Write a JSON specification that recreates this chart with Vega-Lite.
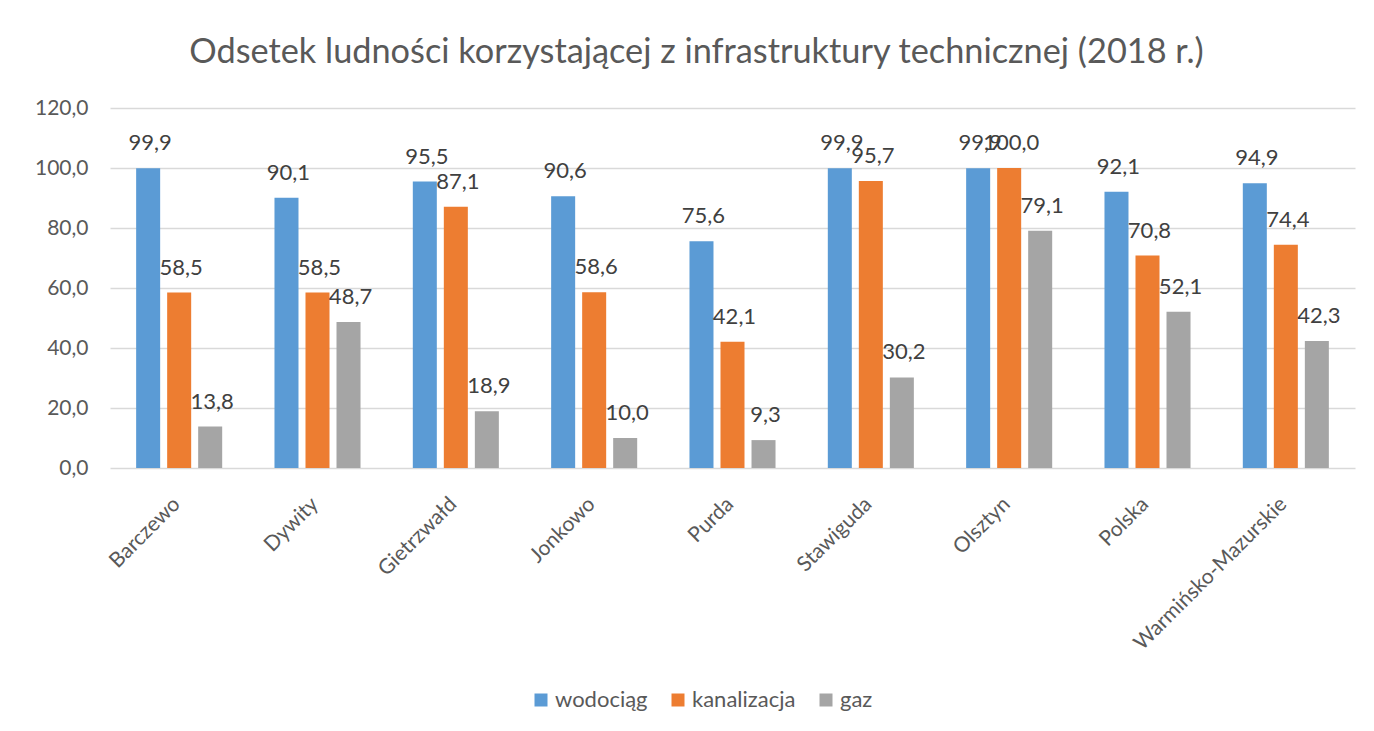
{
  "$schema": "https://vega.github.io/schema/vega-lite/v6.json",
  "autosize": "none",
  "width": 1245,
  "height": 360,
  "padding": {"left": 110, "top": 108, "right": 19, "bottom": 263},
  "background": "white",
  "config": {
    "view": {"stroke": null},
    "locale": {"number": {"decimal": ",", "thousands": " ", "grouping": [3], "currency": ["", " zł"]}},
    "axis": {"labelFont": "Lato", "labelColor": "#595959", "labelFontSize": 21, "title": null}
  },
  "title": {
    "text": "Odsetek ludności korzystającej z infrastruktury technicznej (2018 r.)",
    "font": "Lato",
    "fontSize": 34.3,
    "fontWeight": "normal",
    "color": "#595959",
    "anchor": "middle",
    "frame": "group",
    "baseline": "alphabetic",
    "dx": -36,
    "offset": 0
  },
  "data": {
    "values": [
      {"gmina": "Barczewo", "rodzaj": "wodociąg", "wartosc": 99.9},
      {"gmina": "Barczewo", "rodzaj": "kanalizacja", "wartosc": 58.5},
      {"gmina": "Barczewo", "rodzaj": "gaz", "wartosc": 13.8},
      {"gmina": "Dywity", "rodzaj": "wodociąg", "wartosc": 90.1},
      {"gmina": "Dywity", "rodzaj": "kanalizacja", "wartosc": 58.5},
      {"gmina": "Dywity", "rodzaj": "gaz", "wartosc": 48.7},
      {"gmina": "Gietrzwałd", "rodzaj": "wodociąg", "wartosc": 95.5},
      {"gmina": "Gietrzwałd", "rodzaj": "kanalizacja", "wartosc": 87.1},
      {"gmina": "Gietrzwałd", "rodzaj": "gaz", "wartosc": 18.9},
      {"gmina": "Jonkowo", "rodzaj": "wodociąg", "wartosc": 90.6},
      {"gmina": "Jonkowo", "rodzaj": "kanalizacja", "wartosc": 58.6},
      {"gmina": "Jonkowo", "rodzaj": "gaz", "wartosc": 10.0},
      {"gmina": "Purda", "rodzaj": "wodociąg", "wartosc": 75.6},
      {"gmina": "Purda", "rodzaj": "kanalizacja", "wartosc": 42.1},
      {"gmina": "Purda", "rodzaj": "gaz", "wartosc": 9.3},
      {"gmina": "Stawiguda", "rodzaj": "wodociąg", "wartosc": 99.9},
      {"gmina": "Stawiguda", "rodzaj": "kanalizacja", "wartosc": 95.7},
      {"gmina": "Stawiguda", "rodzaj": "gaz", "wartosc": 30.2},
      {"gmina": "Olsztyn", "rodzaj": "wodociąg", "wartosc": 99.9},
      {"gmina": "Olsztyn", "rodzaj": "kanalizacja", "wartosc": 100.0},
      {"gmina": "Olsztyn", "rodzaj": "gaz", "wartosc": 79.1},
      {"gmina": "Polska", "rodzaj": "wodociąg", "wartosc": 92.1},
      {"gmina": "Polska", "rodzaj": "kanalizacja", "wartosc": 70.8},
      {"gmina": "Polska", "rodzaj": "gaz", "wartosc": 52.1},
      {"gmina": "Warmińsko-Mazurskie", "rodzaj": "wodociąg", "wartosc": 94.9},
      {"gmina": "Warmińsko-Mazurskie", "rodzaj": "kanalizacja", "wartosc": 74.4},
      {"gmina": "Warmińsko-Mazurskie", "rodzaj": "gaz", "wartosc": 42.3}
    ]
  },
  "encoding": {
    "x": {
      "field": "gmina",
      "type": "nominal",
      "sort": null,
      "scale": {"paddingInner": 0.378, "paddingOuter": 0.189},
      "axis": {
        "domain": false,
        "ticks": false,
        "tickSize": 0,
        "labelAngle": -45,
        "labelAlign": "right",
        "labelBaseline": "top",
        "labelPadding": 25,
        "labelOffset": -10,
        "labelLimit": 0
      }
    },
    "xOffset": {
      "field": "rodzaj",
      "type": "nominal",
      "sort": ["wodociąg", "kanalizacja", "gaz"],
      "scale": {"paddingInner": 0.2258, "paddingOuter": 0}
    },
    "y": {
      "field": "wartosc",
      "type": "quantitative",
      "scale": {"domain": [0, 120], "nice": false},
      "axis": {
        "values": [0, 20, 40, 60, 80, 100, 120],
        "format": ".1f",
        "domain": false,
        "ticks": false,
        "tickSize": 0,
        "labelPadding": 22,
        "grid": true,
        "gridColor": "#D9D9D9",
        "gridWidth": 1.5
      }
    }
  },
  "layer": [
    {
      "mark": {"type": "bar"},
      "encoding": {
        "color": {
          "field": "rodzaj",
          "type": "nominal",
          "scale": {"domain": ["wodociąg", "kanalizacja", "gaz"], "range": ["#5B9BD5", "#ED7D31", "#A5A5A5"]},
          "legend": {
            "orient": "none",
            "legendX": 420,
            "legendY": 581,
            "direction": "horizontal",
            "title": null,
            "padding": 0,
            "symbolType": "square",
            "symbolSize": 169,
            "symbolStrokeWidth": 0,
            "symbolOpacity": 1,
            "labelOffset": 3,
            "columnPadding": 19,
            "labelFont": "Lato",
            "labelFontSize": 22,
            "labelColor": "#595959",
            "labelBaseline": "middle"
          }
        }
      }
    },
    {
      "mark": {"type": "text", "baseline": "alphabetic", "dy": -18, "dx": 2, "font": "Lato", "fontSize": 22, "color": "#404040"},
      "encoding": {
        "text": {"field": "wartosc", "type": "quantitative", "format": ".1f"}
      }
    }
  ]
}
